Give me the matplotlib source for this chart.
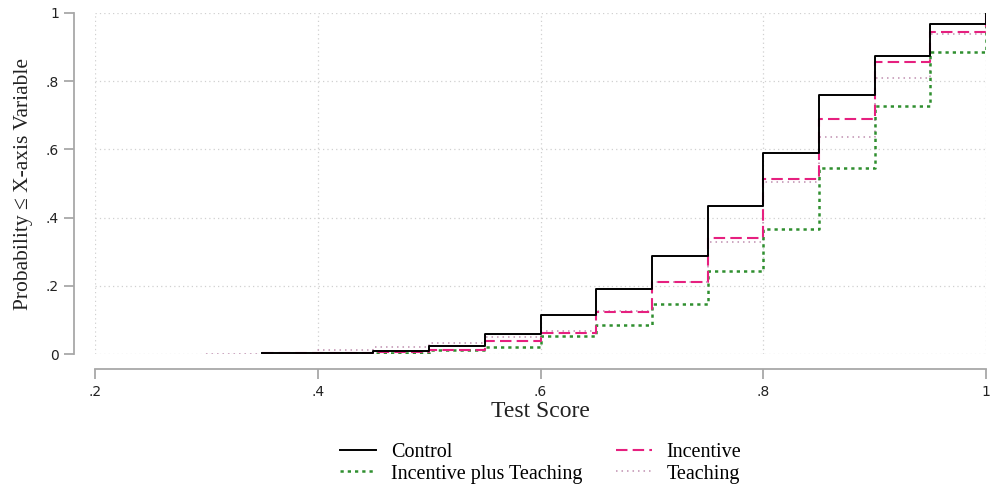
"""
Empirical CDF of test scores by treatment group, Stata-like step plot.
"""

import numpy as np
import matplotlib
import matplotlib.pyplot as plt
matplotlib.use('Agg')

nan = np.nan

# test score grid (steps happen at these points)
scores = [0.30, 0.35, 0.40, 0.45, 0.50, 0.55, 0.60, 0.65,
          0.70, 0.75, 0.80, 0.85, 0.90, 0.95, 1.00]

# cumulative probabilities
control = [nan, 0.003, 0.004, 0.008, 0.024, 0.059, 0.113, 0.191,
           0.288, 0.433, 0.588, 0.760, 0.874, 0.967, 1.0]
incentive = [nan, 0.003, 0.004, 0.007, 0.013, 0.039, 0.062, 0.124,
             0.210, 0.340, 0.514, 0.690, 0.855, 0.943, 1.0]
inc_teach = [nan, nan, 0.002, 0.003, 0.011, 0.021, 0.053, 0.086,
             0.147, 0.242, 0.366, 0.545, 0.727, 0.886, 1.0]
teaching = [0.001, 0.003, 0.012, 0.021, 0.033, 0.051, 0.068, 0.127,
            0.212, 0.328, 0.504, 0.636, 0.810, 0.938, 1.0]

xticks = [0.2, 0.4, 0.6, 0.8, 1.0]
xticklabels = ['.2', '.4', '.6', '.8', '1']
yticks = [0, 0.2, 0.4, 0.6, 0.8, 1.0]
yticklabels = ['0', '.2', '.4', '.6', '.8', '1']


def main():
    fig = plt.figure(figsize=(9.92, 4.86), dpi=100)
    ax = fig.add_axes([95 / 992, 132 / 486, 891 / 992, 341 / 486])

    serif = 'Liberation Serif'
    sans = 'Liberation Sans'

    l_ctrl, = ax.step(scores, control, where='post', color='black',
                      lw=1.4, label='Control', zorder=5)
    l_inc, = ax.step(scores, incentive, where='post', color='#e6207f',
                     lw=1.5, dashes=(5.5, 2.5), label='Incentive', zorder=4)
    l_it, = ax.step(scores, inc_teach, where='post', color='#2f8f2f',
                    lw=1.8, dashes=(1.3, 1.6),
                    label='Incentive plus Teaching', zorder=3)
    l_t, = ax.step(scores, teaching, where='post', color='#c090b0',
                   lw=1.1, dashes=(1, 2.6), label='Teaching', zorder=2)

    ax.set_xlim(0.2, 1.0)
    ax.set_ylim(0, 1.0)
    ax.set_xticks(xticks)
    ax.set_xticklabels(xticklabels, fontfamily=sans, fontsize=12)
    ax.set_yticks(yticks)
    ax.set_yticklabels(yticklabels, fontfamily=sans, fontsize=12)

    ax.grid(True, linestyle=(0, (1, 2.5)), color='#d0d0d0', lw=0.9)
    ax.set_axisbelow(True)

    for side in ['top', 'right']:
        ax.spines[side].set_visible(False)
    ax.spines['left'].set_position(('outward', 15))
    ax.spines['bottom'].set_position(('outward', 11))
    for side in ['left', 'bottom']:
        ax.spines[side].set_color('#a8a8a8')
        ax.spines[side].set_linewidth(1.3)
    ax.tick_params(colors='#a8a8a8', labelcolor='#222222', length=7,
                   width=1.3, pad=4)

    ax.set_xlabel('Test Score', fontfamily=serif, fontsize=17,
                  color='#222222')
    ax.xaxis.set_label_coords(0.5, -0.137)
    ax.set_ylabel('Probability \u2264 X-axis Variable', fontfamily=serif,
                  fontsize=15.5, color='#222222')
    ax.yaxis.set_label_coords(-0.07, 0.5)

    fig.legend(handles=[l_ctrl, l_it, l_inc, l_t], ncol=2,
               loc='upper center', bbox_to_anchor=(541 / 992, 0.126),
               frameon=False, prop={'family': serif, 'size': 14.5},
               handlelength=1.75, handletextpad=0.75, columnspacing=1.7,
               labelspacing=0.12)

    plt.savefig('out.png', dpi=100)


if __name__ == '__main__':
    main()
